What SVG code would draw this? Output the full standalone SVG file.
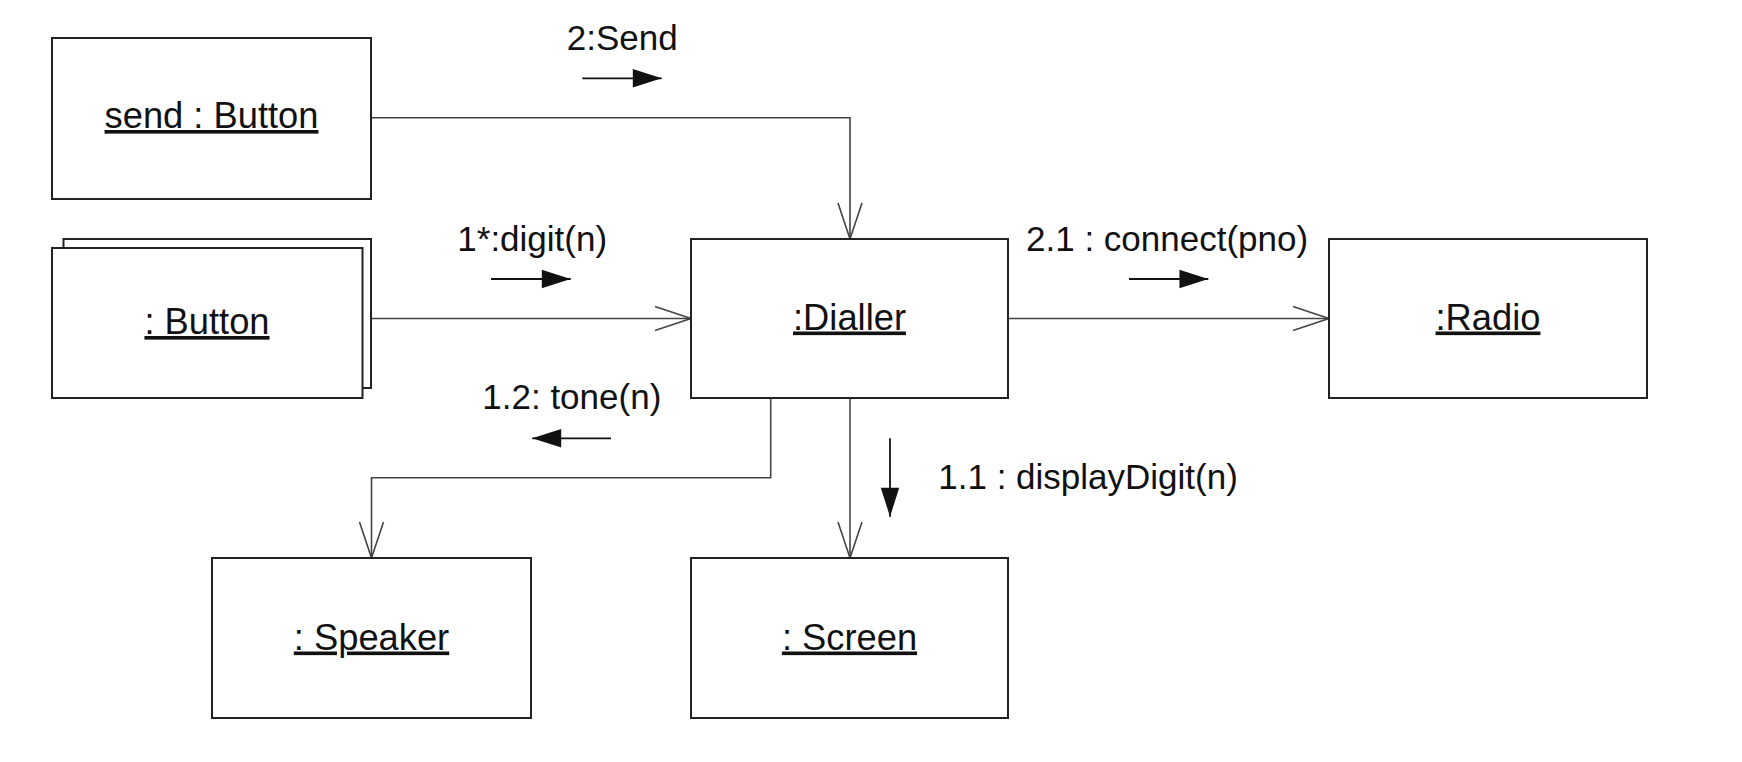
<svg xmlns="http://www.w3.org/2000/svg" width="1742" height="762" viewBox="0 0 1742 762">
<style>
.box{fill:#fff;stroke:#222;stroke-width:2}
.lbl{font-family:"Liberation Sans",Arial,sans-serif;font-size:36.3px;fill:#111;text-decoration:underline;text-anchor:middle}
.msg{font-family:"Liberation Sans",Arial,sans-serif;font-size:35px;fill:#111}
.conn{fill:none;stroke:#444;stroke-width:1.6}
.marr{fill:none;stroke:#111;stroke-width:1.8}
</style>
<defs>
<marker id="open" markerUnits="userSpaceOnUse" markerWidth="40" markerHeight="30" viewBox="-38 -14 40 28" refX="0" refY="0" orient="auto" overflow="visible">
<path d="M-36,-12 L0,0 L-36,12" fill="none" stroke="#444" stroke-width="1.6"/>
</marker>
<marker id="fill" markerUnits="userSpaceOnUse" markerWidth="30" markerHeight="20" viewBox="-26 -9 27 18" refX="0" refY="0" orient="auto" overflow="visible">
<path d="M-26,-8.3 L0,0 L-26,8.3 Z" fill="#111"/>
</marker>
</defs>
<g id="connectors">
<path class="conn" d="M371,117.7 H850 V239" marker-end="url(#open)"/>
<path class="conn" d="M371,318.5 H691" marker-end="url(#open)"/>
<path class="conn" d="M1008,318.5 H1329" marker-end="url(#open)"/>
<path class="conn" d="M770.7,398 V477.7 H371.5 V558" marker-end="url(#open)"/>
<path class="conn" d="M850,398 V558" marker-end="url(#open)"/>
</g>
<g id="messages">
<line class="marr" x1="582.3" y1="78.3" x2="661.7" y2="78.3" marker-end="url(#fill)"/>
<text class="msg" x="566.7" y="50">2:Send</text>
<line class="marr" x1="491" y1="279" x2="570.7" y2="279" marker-end="url(#fill)"/>
<text class="msg" x="457.3" y="250.7">1*:digit(n)</text>
<line class="marr" x1="1129" y1="279" x2="1208.3" y2="279" marker-end="url(#fill)"/>
<text class="msg" x="1026" y="250.7">2.1 : connect(pno)</text>
<line class="marr" x1="611" y1="438.3" x2="532.3" y2="438.3" marker-end="url(#fill)"/>
<text class="msg" x="482.3" y="409">1.2: tone(n)</text>
<line class="marr" x1="890" y1="438.3" x2="890" y2="516.7" marker-end="url(#fill)"/>
<text class="msg" x="938.3" y="489">1.1 : displayDigit(n)</text>
</g>
<g id="send-button">
<rect class="box" x="52" y="38" width="319" height="161"/>
<text class="lbl" x="211.5" y="128">send : Button</text>
</g>
<g id="button">
<rect class="box" x="63.5" y="239" width="307.5" height="149"/>
<rect class="box" x="52" y="248" width="310.5" height="150"/>
<text class="lbl" x="207" y="334">: Button</text>
</g>
<g id="dialler">
<rect class="box" x="691" y="239" width="317" height="159"/>
<text class="lbl" x="849.5" y="329.5">:Dialler</text>
</g>
<g id="radio">
<rect class="box" x="1329" y="239" width="318" height="159"/>
<text class="lbl" x="1488" y="329.5">:Radio</text>
</g>
<g id="speaker">
<rect class="box" x="212" y="558" width="319" height="160"/>
<text class="lbl" x="371.5" y="649.5">: Speaker</text>
</g>
<g id="screen">
<rect class="box" x="691" y="558" width="317" height="160"/>
<text class="lbl" x="849.5" y="649.5">: Screen</text>
</g>
</svg>
